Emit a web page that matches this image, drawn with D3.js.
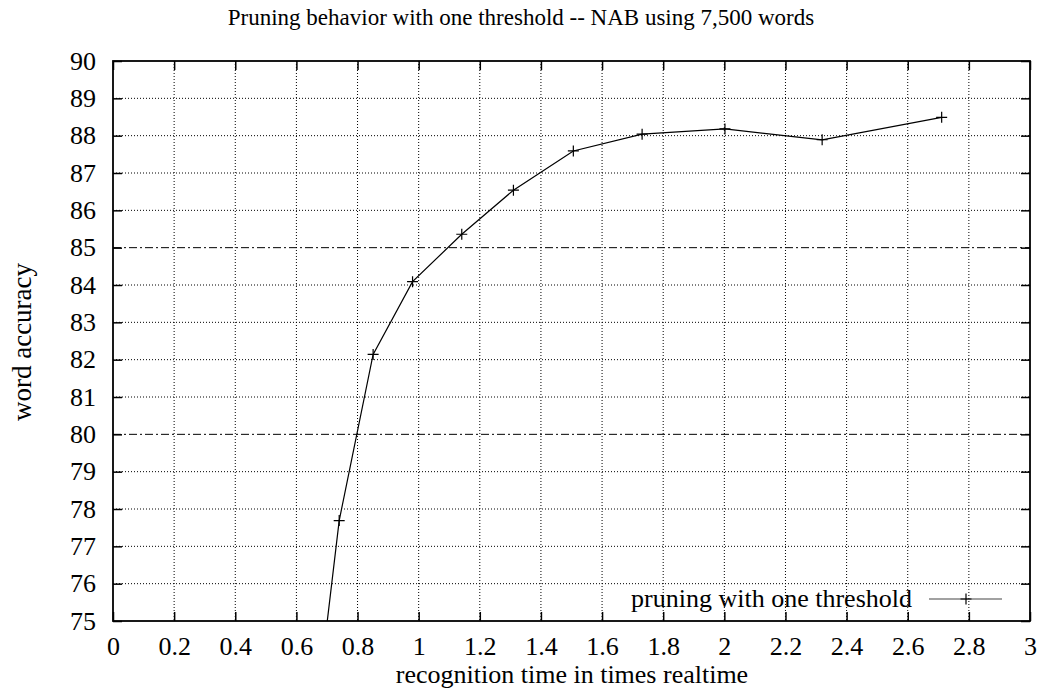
<!DOCTYPE html>
<html><head><meta charset="utf-8">
<script src="https://cdn.jsdelivr.net/npm/d3@7"></script>
<style>body{margin:0;background:#fff}svg{display:block}text{font-family:"Liberation Serif","Times New Roman",serif;fill:#000}</style>
</head><body>
<svg id="c" width="1042" height="698"></svg>
<script>
const xValues = [0.68, 0.740, 0.851, 0.980, 1.141, 1.310, 1.506, 1.731, 2.002, 2.320, 2.711];
const yValues = [73.55, 77.69, 82.14, 84.09, 85.36, 86.54, 87.59, 88.04, 88.18, 87.89, 88.49];
const xTicks = [0,0.2,0.4,0.6,0.8,1,1.2,1.4,1.6,1.8,2,2.2,2.4,2.6,2.8,3];
const yTicks = [75,76,77,78,79,80,81,82,83,84,85,86,87,88,89,90];
const refLines = [80, 85];
const title = "Pruning behavior with one threshold -- NAB using 7,500 words";
const xLabel = "recognition time in times realtime";
const yLabel = "word accuracy";
const seriesName = "pruning with one threshold";

const L=113, R=1030, T=61, B=621;
const svg = d3.select("#c");
const x = d3.scaleLinear().domain([0,3]).range([L,R]);
const y = d3.scaleLinear().domain([75,90]).range([B,T]);

// grid
const g = svg.append("g");
g.selectAll("line.gx").data(xTicks.slice(1,-1)).join("line")
  .attr("x1",d=>x(d)).attr("x2",d=>x(d)).attr("y1",T).attr("y2",B)
  .attr("stroke","#000").attr("stroke-width",1).attr("stroke-dasharray","1,2");
g.selectAll("line.gy").data(yTicks.slice(1,-1).filter(d=>!refLines.includes(d))).join("line")
  .attr("x1",L).attr("x2",R).attr("y1",d=>y(d)).attr("y2",d=>y(d))
  .attr("stroke","#000").attr("stroke-width",1).attr("stroke-dasharray","1,2");
g.selectAll("line.gr").data(refLines).join("line")
  .attr("x1",L).attr("x2",R).attr("y1",d=>y(d)).attr("y2",d=>y(d))
  .attr("stroke","#000").attr("stroke-width",1).attr("stroke-dasharray","8,3,2,3");

// axes (ticks inward, mirrored)
const tl = 9;
const ax = svg.append("g").attr("transform",`translate(0,${B})`)
  .call(d3.axisBottom(x).tickValues(xTicks).tickFormat(d3.format("~g")).tickSize(-tl).tickPadding(16));
const axT = svg.append("g").attr("transform",`translate(0,${T})`)
  .call(d3.axisTop(x).tickValues(xTicks).tickFormat("").tickSize(-tl));
const ay = svg.append("g").attr("transform",`translate(${L},0)`)
  .call(d3.axisLeft(y).tickValues(yTicks).tickFormat(d3.format("d")).tickSize(-tl).tickPadding(17));
const ayR = svg.append("g").attr("transform",`translate(${R},0)`)
  .call(d3.axisRight(y).tickValues(yTicks).tickFormat("").tickSize(-tl));
[ax,axT,ay,ayR].forEach(a=>{
  a.select(".domain").remove();
  a.selectAll(".tick line").attr("stroke","#000").attr("stroke-width",1.5);
  a.selectAll("text").style("font-size","26px").attr("fill","#000");
});
ax.selectAll("text").attr("dy","0.71em");

svg.append("rect").attr("x",L).attr("y",T).attr("width",R-L).attr("height",B-T)
  .attr("fill","none").attr("stroke","#000").attr("stroke-width",1.8);

// data
svg.append("clipPath").attr("id","clip").append("rect")
  .attr("x",L).attr("y",T).attr("width",R-L).attr("height",B-T);
const pts = xValues.map((v,i)=>[v,yValues[i]]);
const pg = svg.append("g").attr("clip-path","url(#clip)");
pg.append("path").datum(pts)
  .attr("d",d3.line().x(d=>x(d[0])).y(d=>y(d[1])))
  .attr("fill","none").attr("stroke","#000").attr("stroke-width",1.2);
const s=5.5;
pg.selectAll("path.m").data(pts).join("path")
  .attr("d",d=>`M${x(d[0])-s},${y(d[1])}H${x(d[0])+s}M${x(d[0])},${y(d[1])-s}V${y(d[1])+s}`)
  .attr("stroke","#000").attr("stroke-width",1.2);

// legend
svg.append("text").attr("x",912).attr("y",607).attr("text-anchor","end")
  .style("font-size","26px").text(seriesName);
svg.append("line").attr("x1",929).attr("x2",1002).attr("y1",599).attr("y2",599)
  .attr("stroke","#444").attr("stroke-width",1.2);
svg.append("path").attr("d",`M${966-s},599H${966+s}M966,${599-s}V${599+s}`)
  .attr("stroke","#000").attr("stroke-width",1.2);

// labels
svg.append("text").attr("x",521).attr("y",25).attr("text-anchor","middle")
  .style("font-size","23px").text(title);
svg.append("text").attr("x",572).attr("y",683).attr("text-anchor","middle")
  .style("font-size","26px").text(xLabel);
svg.append("text").attr("transform",`translate(31,342) rotate(-90)`).attr("text-anchor","middle")
  .style("font-size","27px").text(yLabel);
</script>
</body></html>
